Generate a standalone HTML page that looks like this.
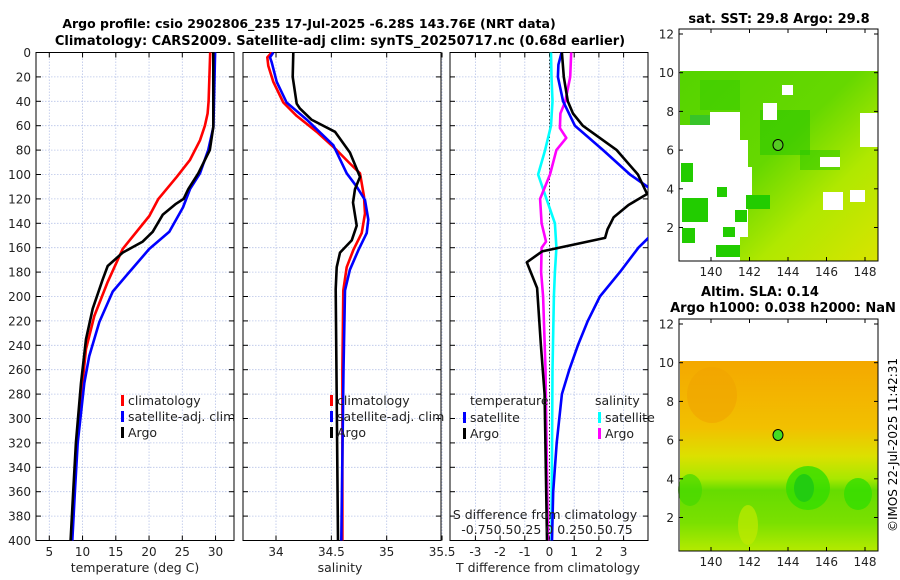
<!DOCTYPE html>
<html><head><meta charset="utf-8"><style>
html,body{margin:0;padding:0;background:#fff}
svg{display:block;font-family:"DejaVu Sans","Liberation Sans",sans-serif}
</style></head><body>
<svg id="fig" width="900" height="580" viewBox="0 0 900 580" xmlns="http://www.w3.org/2000/svg">
<defs>
<linearGradient id="sstg" x1="0" y1="0" x2="1" y2="1">
<stop offset="0" stop-color="#55d400"/><stop offset="0.45" stop-color="#66d800"/><stop offset="0.7" stop-color="#b0e800"/><stop offset="1" stop-color="#d8e400"/></linearGradient>
<linearGradient id="slag" x1="0" y1="0" x2="0" y2="1">
<stop offset="0" stop-color="#f4a800"/><stop offset="0.35" stop-color="#f2c000"/><stop offset="0.5" stop-color="#dce000"/><stop offset="0.62" stop-color="#a8e800"/><stop offset="0.68" stop-color="#66dc00"/><stop offset="0.85" stop-color="#7ae000"/><stop offset="1" stop-color="#b4ea00"/></linearGradient>
<clipPath id="c1"><rect x="36" y="52" width="198" height="489"/></clipPath>
<clipPath id="c2"><rect x="243" y="52" width="198" height="489"/></clipPath>
<clipPath id="c3"><rect x="450" y="52" width="198" height="489"/></clipPath>
</defs>
<g font-weight="bold" font-size="13" text-anchor="middle" fill="#000">
<text x="309" y="28" font-size="12.5">Argo profile: csio 2902806_235 17-Jul-2025 -6.28S 143.76E (NRT data)</text>
<text x="340" y="45">Climatology: CARS2009. Satellite-adj clim: synTS_20250717.nc (0.68d earlier)</text>
<text x="779" y="23">sat. SST: 29.8 Argo: 29.8</text>
<text x="760" y="296">Altim. SLA: 0.14</text>
<text x="783" y="312">Argo h1000: 0.038 h2000: NaN</text>
</g>
<g id="panels"></g>
<g id="maps">
<g>
<rect x="680" y="71" width="198" height="190" fill="url(#sstg)"/>
<rect x="700" y="80" width="40" height="30" fill="#33cc00" opacity="0.5"/>
<rect x="760" y="110" width="50" height="45" fill="#22c400" opacity="0.5"/>
<rect x="690" y="115" width="30" height="15" fill="#22b844" opacity="0.6"/>
<rect x="800" y="150" width="40" height="20" fill="#22c800" opacity="0.5"/>
<g fill="#fff">
<rect x="680" y="125" width="60" height="132"/>
<rect x="720" y="140" width="28" height="57"/>
<rect x="740" y="167" width="12" height="30"/>
<rect x="860" y="113" width="18" height="34"/>
<rect x="820" y="157" width="20" height="10"/>
<rect x="823" y="192" width="20" height="18"/>
<rect x="763" y="103" width="14" height="17"/>
<rect x="782" y="85" width="11" height="10"/>
<rect x="710" y="112" width="30" height="15"/>
<rect x="850" y="190" width="15" height="12"/>
<rect x="740" y="197" width="8" height="40"/>
<rect x="680" y="257" width="60" height="4"/>
</g>
<g fill="#22cc00">
<rect x="681" y="163" width="12" height="19"/><rect x="717" y="187" width="10" height="10"/>
<rect x="682" y="198" width="26" height="24"/><rect x="735" y="210" width="12" height="12"/>
<rect x="723" y="227" width="12" height="10"/><rect x="682" y="228" width="13" height="15"/>
<rect x="716" y="245" width="24" height="12"/><rect x="746" y="195" width="24" height="14"/>
</g>
<ellipse cx="778" cy="145" rx="5" ry="5.5" fill="#55cc22" stroke="#000" stroke-width="1"/>
</g>
<g>
<rect x="680" y="361" width="198" height="190" fill="url(#slag)"/>
<ellipse cx="712" cy="395" rx="25" ry="28" fill="#f0a400" opacity="0.6"/>
<ellipse cx="808" cy="488" rx="22" ry="22" fill="#33dd00" opacity="0.8"/>
<ellipse cx="804" cy="488" rx="10" ry="14" fill="#22cc11"/>
<ellipse cx="858" cy="494" rx="14" ry="16" fill="#33dd00" opacity="0.8"/>
<ellipse cx="690" cy="490" rx="12" ry="16" fill="#44d800" opacity="0.7"/>
<ellipse cx="748" cy="525" rx="10" ry="20" fill="#c0ea00" opacity="0.7"/>
<ellipse cx="778" cy="435" rx="5" ry="5.5" fill="#44dd22" stroke="#000" stroke-width="1"/>
</g>
</g>
<text transform="translate(897,445) rotate(-90)" text-anchor="middle" font-size="12">©IMOS 22-Jul-2025 11:42:31</text>
</svg>
<script>
const tDepth = [0,40,50,60,72,88,102,120,134,161,188,216,243,271,320,360,400];
const tClim  = [29.2,28.95,28.8,28.4,27.66,26.16,24.16,21.4,20.04,16.04,13.78,11.77,10.52,10.0,9.2,8.75,8.35];
const tSatDepth = [0,61,80,99,112,127,147,161,180,196,221,249,271,320,360,400];
const tSat = [29.93,29.67,28.9,27.66,26.16,25.1,23.05,20.04,17.03,14.53,12.52,11.0,10.26,9.27,8.85,8.46];
const tArgoDepth = [0,61,80,99,112,120,124,133,147,155,164,175,186,210,235,271,320,360,400];
const tArgo = [29.66,29.66,29.14,27.4,25.9,25.2,24.05,22.05,20.55,19.05,16.04,13.78,13.03,11.53,10.52,9.77,9.0,8.6,8.2];

const sClimDepth = [0,4,11,24,41,52,65,80,91,99,118,132,148,162,176,195,260,400];
const sClim = [33.961,33.921,33.93,33.976,34.066,34.187,34.368,34.548,34.668,34.759,34.795,34.804,34.774,34.698,34.639,34.608,34.6,34.6];
const sSatDepth = [0,4,8,24,41,55,76,99,110,121,137,148,162,178,195,260,400];
const sSat = [33.976,33.946,33.961,34.006,34.096,34.277,34.518,34.639,34.729,34.804,34.834,34.819,34.744,34.668,34.623,34.61,34.59];
const sArgoDepth = [0,20,42,46,55,65,82,102,112,123,142,154,164,176,194,300,400];
const sArgo = [34.156,34.151,34.187,34.217,34.32,34.533,34.668,34.759,34.714,34.696,34.729,34.684,34.578,34.548,34.539,34.55,34.56];

const dTSatDepth = [0,10,20,40,60,80,100,112,140,150,160,180,200,220,240,260,280,320,360,400];
const dTSat = [0.49,0.36,0.34,0.55,1.03,2.17,3.26,4.1,4.6,4.1,3.6,2.85,2.04,1.55,1.15,0.8,0.5,0.29,0.15,0.1];
const dTArgoDepth = [0,20,40,50,60,80,100,116,125,135,145,152,163,172,193,240,280,400];
const dTArgo = [0.5,0.58,0.74,0.95,1.35,2.72,3.58,3.95,3.2,2.6,2.35,2.25,-0.3,-0.92,-0.5,-0.35,-0.2,-0.1];
const dSSatDepth = [0,20,40,60,80,100,120,140,160,180,200,260,400];
const dSSat = [0.015,0.02,0.03,0.015,-0.045,-0.115,-0.03,0.055,0.07,0.055,0.045,0.03,0.02];
const dSArgoDepth = [0,20,40,50,62,70,80,100,120,140,155,160,180,200,260,400];
const dSArgo = [0.22,0.21,0.16,0.11,0.105,0.17,0.07,0.005,-0.095,-0.08,-0.035,-0.08,-0.085,-0.065,-0.04,-0.015];

const depthTicks = [0,20,40,60,80,100,120,140,160,180,200,220,240,260,280,300,320,340,360,380,400];
const tTicks = [5,10,15,20,25,30];
const sTicks = [34,34.5,35,35.5];
const dTicks = [-3,-2,-1,0,1,2,3];

const Y0 = 52.5, YK = 1.22;
const yD = d => Y0 + d*YK;
const xT = t => 49.3 + (t-5)*6.65;
const xS = s => 276 + (s-34)*110.7;
const xDT = v => 549.5 + v*24.7;
const xDS = v => 549.5 + v*98.8;

const NS = 'http://www.w3.org/2000/svg';
const root = document.getElementById('panels');
function mk(tag, attrs, parent){
  const e = document.createElementNS(NS, tag);
  for (const k in attrs) e.setAttribute(k, attrs[k]);
  (parent||root).appendChild(e);
  return e;
}
function txt(s, x, y, anchor, size, parent){
  const e = mk('text', {x:x, y:y, 'text-anchor':anchor||'middle', 'font-size':size||12, fill:'#222'}, parent);
  e.textContent = s;
  return e;
}
function panel(x0, ticks, xf, clip, name, tickLabels){
  const g = mk('g', {});
  
  
  const x1 = x0 + 198, yb = yD(400);
  depthTicks.forEach(d => {
    mk('line', {x1:x0, x2:x1, y1:yD(d), y2:yD(d), stroke:'#b8c4e8', 'stroke-width':0.8, 'stroke-dasharray':'1.5,1.5'}, g);
    mk('line', {x1:x0, x2:x0+5, y1:yD(d), y2:yD(d), stroke:'#000'}, g);
    mk('line', {x1:x1-5, x2:x1, y1:yD(d), y2:yD(d), stroke:'#000'}, g);
  });
  ticks.forEach((t,i) => {
    const x = xf(t);
    mk('line', {x1:x, x2:x, y1:Y0, y2:yb, stroke:'#b8c4e8', 'stroke-width':0.8, 'stroke-dasharray':'1.5,1.5'}, g);
    mk('line', {x1:x, x2:x, y1:Y0, y2:Y0+5, stroke:'#000'}, g);
    mk('line', {x1:x, x2:x, y1:yb-5, y2:yb, stroke:'#000'}, g);
    const lab = txt(tickLabels[i], x, 556, 'middle', 12, g);
    
    
  });
  mk('rect', {x:x0, y:Y0, width:198, height:yb-Y0, fill:'none', stroke:'#000', 'stroke-width':1}, g);
  return g;
}
function line(g, depths, vals, xf, color, clip, name){
  const pts = depths.map((d,i) => xf(vals[i]).toFixed(1)+','+yD(d).toFixed(1)).join(' ');
  const p = mk('polyline', {points:pts, fill:'none', stroke:color, 'stroke-width':2.6, 'stroke-linejoin':'round', 'clip-path':'url(#'+clip+')'}, g);
  
  
}
function legendEntry(g, x, y, color, label){
  const r = mk('rect', {x:x-2, y:y-10, width:3, height:11, fill:color}, g);
  
  
  const t = txt(label, x+5, y, 'start', 12.5, g);
  
  
}

depthTicks.forEach(d => {
  const t = txt(String(d), 31, yD(d)+4.5, 'end', 12);
  
  
});

const p1 = panel(36, tTicks, xT, 'c1', 'temperature-panel', tTicks.map(String));
line(p1, tDepth, tClim, xT, '#ff0000', 'c1', 'temp-climatology-line');
line(p1, tSatDepth, tSat, xT, '#0000ff', 'c1', 'temp-satellite-line');
line(p1, tArgoDepth, tArgo, xT, '#000000', 'c1', 'temp-argo-line');
legendEntry(p1, 123, 405, '#ff0000', 'climatology');
legendEntry(p1, 123, 421, '#0000ff', 'satellite-adj. clim');
legendEntry(p1, 123, 437, '#000000', 'Argo');
const xt1 = txt('temperature (deg C)', 135, 572, 'middle', 12.5, p1);



const p2 = panel(243, sTicks, xS, 'c2', 'salinity-panel', sTicks.map(String));
line(p2, sClimDepth, sClim, xS, '#ff0000', 'c2', 'sal-climatology-line');
line(p2, sSatDepth, sSat, xS, '#0000ff', 'c2', 'sal-satellite-line');
line(p2, sArgoDepth, sArgo, xS, '#000000', 'c2', 'sal-argo-line');
legendEntry(p2, 332, 405, '#ff0000', 'climatology');
legendEntry(p2, 332, 421, '#0000ff', 'satellite-adj. clim');
legendEntry(p2, 332, 437, '#000000', 'Argo');
const xt2 = txt('salinity', 340, 572, 'middle', 12.5, p2);



const p3 = panel(450, dTicks, xDT, 'c3', 'difference-panel', dTicks.map(String));
const zl = mk('line', {x1:xDT(0), x2:xDT(0), y1:Y0, y2:yD(400), stroke:'#333', 'stroke-width':1, 'stroke-dasharray':'1.5,2'}, p3);


line(p3, dSSatDepth, dSSat, xDS, '#00ffff', 'c3', 'sdiff-satellite-line');
line(p3, dSArgoDepth, dSArgo, xDS, '#ff00ff', 'c3', 'sdiff-argo-line');
line(p3, dTSatDepth, dTSat, xDT, '#0000ff', 'c3', 'tdiff-satellite-line');
line(p3, dTArgoDepth, dTArgo, xDT, '#000000', 'c3', 'tdiff-argo-line');
const lh1 = txt('temperature', 470, 405, 'start', 12.5, p3);


const lh2 = txt('salinity', 595, 405, 'start', 12.5, p3);


legendEntry(p3, 465, 422, '#0000ff', 'satellite');
legendEntry(p3, 465, 438, '#000000', 'Argo');
legendEntry(p3, 600, 422, '#00ffff', 'satellite');
legendEntry(p3, 600, 438, '#ff00ff', 'Argo');
const st = txt('S difference from climatology', 545, 519, 'middle', 12.5, p3);


const sl = txt('-0.750.50.25 0 0.250.50.75', 547, 534, 'middle', 12.5, p3);


const xt3 = txt('T difference from climatology', 548, 572, 'middle', 12.5, p3);



const latTicks = [12,10,8,6,4,2];
const lonTicks = [140,142,144,146,148];
const maps = document.getElementById('maps');
function mapAxes(yTop, yBot, name){
  const g = mk('g', {}, maps);
  
  
  const yl = lat => yTop + 5 + (12-lat)*19.35;
  const xl = lon => 711 + (lon-140)*19.25;
  mk('rect', {x:679, y:yTop, width:199, height:yBot-yTop, fill:'none', stroke:'#000'}, g);
  latTicks.forEach(l => {
    mk('line', {x1:679, x2:683, y1:yl(l), y2:yl(l), stroke:'#000'}, g);
    mk('line', {x1:874, x2:878, y1:yl(l), y2:yl(l), stroke:'#000'}, g);
    const t = txt(String(l), 674, yl(l)+4.5, 'end', 12, g);
    
    
  });
  lonTicks.forEach(l => {
    mk('line', {x1:xl(l), x2:xl(l), y1:yTop, y2:yTop+4, stroke:'#000'}, g);
    mk('line', {x1:xl(l), x2:xl(l), y1:yBot-4, y2:yBot, stroke:'#000'}, g);
    const t = txt(String(l), xl(l), yBot+15, 'middle', 12, g);
    
    
  });
}
mapAxes(29, 261, 'sst-map-axes');
mapAxes(319, 551, 'sla-map-axes');
</script>
</body></html>
